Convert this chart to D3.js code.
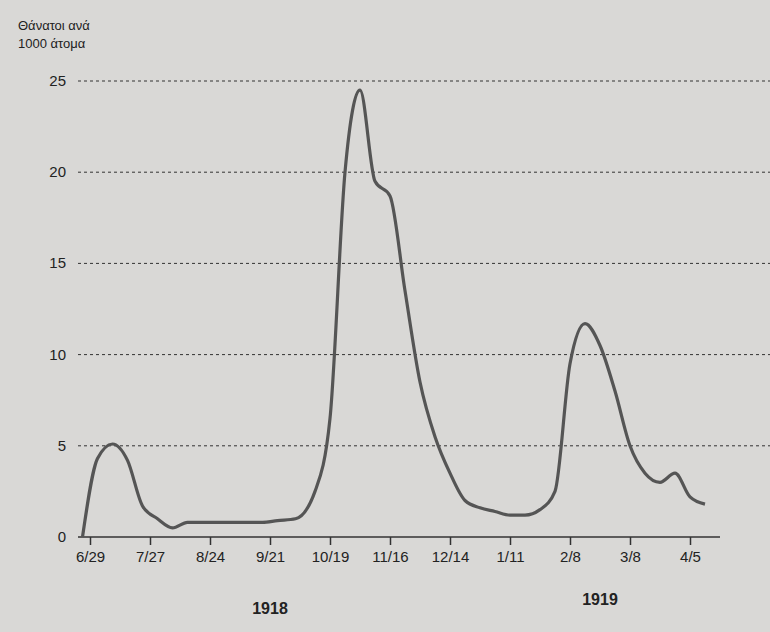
<!DOCTYPE html>
<html><head><meta charset="utf-8">
<script src="https://cdn.jsdelivr.net/npm/d3@7"></script>
<style>body{margin:0;background:#d9d8d6}</style>
</head><body>
<script>
// weeks counted from 6/29/1918
var weeks = [-0.5,0.5,1.5,2.5,3.5,4.5,5.5,6.5,7.5,8.5,9.5,10.5,11.5,12.5,13.7,15,16,17,18,19,20,21,22,23,24,25,26,27,28,29,30,31,32,33,34,35,36,37,38,39,40,41]
var deaths = [0,4.3,5.1,4.2,1.7,1.0,0.5,0.8,0.8,0.8,0.8,0.8,0.8,0.9,1.0,2.5,6.5,20,24.5,19.5,18.7,13.5,8.5,5.5,3.5,2.0,1.6,1.4,1.2,1.2,1.5,2.5,9.5,11.7,10.5,8,5,3.5,3,3.5,2.2,1.8]
var tickWeeks = [0,4,8,12,16,20,24,28,32,36,40]
var tickLabels = ["6/29","7/27","8/24","9/21","10/19","11/16","12/14","1/11","2/8","3/8","4/5"]
var yTicks = [0,5,10,15,20,25]

var width = 770, height = 632
var svg = d3.select("body").append("svg").attr("width", width).attr("height", height)
  .style("font-family","Liberation Sans, Arial, sans-serif")

var x = d3.scaleLinear().domain([0,40]).range([90,690])
var y = d3.scaleLinear().domain([0,25]).range([537,81])

// dashed grid
svg.selectAll(".grid").data(yTicks.slice(1)).enter().append("line")
  .attr("x1",78).attr("x2",770)
  .attr("y1",function(d){return y(d)}).attr("y2",function(d){return y(d)})
  .attr("stroke","#333").attr("stroke-width",1).attr("stroke-dasharray","3,3")

svg.selectAll(".ylab").data(yTicks).enter().append("text")
  .attr("x",66).attr("y",function(d){return y(d)+5})
  .attr("text-anchor","end").attr("font-size",15).attr("fill","#222")
  .text(function(d){return d})

// x axis
var xAxis = d3.axisBottom(x).tickValues(tickWeeks)
  .tickFormat(function(d,i){return tickLabels[i]}).tickSize(8).tickSizeOuter(0)
var gx = svg.append("g").attr("transform","translate(0,537)").call(xAxis)
gx.select(".domain").attr("stroke","#333").attr("stroke-width",1.5).attr("d","M78,0H720")
gx.selectAll(".tick line").attr("stroke","#333").attr("stroke-width",1.5)
gx.selectAll(".tick text").attr("font-size",15).attr("fill","#222").attr("dy","0.9em")
  .style("font-family","Liberation Sans, Arial, sans-serif")

svg.append("text").attr("x",x(12)).attr("y",614).attr("text-anchor","middle")
  .attr("font-size",16).attr("font-weight","bold").attr("fill","#222").text("1918")
svg.append("text").attr("x",x(34)).attr("y",605).attr("text-anchor","middle")
  .attr("font-size",16).attr("font-weight","bold").attr("fill","#222").text("1919")

svg.append("text").attr("x",18).attr("y",30).attr("font-size",13).attr("fill","#222").text("Θάνατοι ανά")
svg.append("text").attr("x",18).attr("y",48).attr("font-size",13).attr("fill","#222").text("1000 άτομα")

var line = d3.line().x(function(d,i){return x(weeks[i])}).y(function(d){return y(d)})
  .curve(d3.curveMonotoneX)
svg.append("path").datum(deaths).attr("d",line)
  .attr("fill","none").attr("stroke","#555").attr("stroke-width",3.2).attr("stroke-linejoin","round")
</script>
</body></html>
